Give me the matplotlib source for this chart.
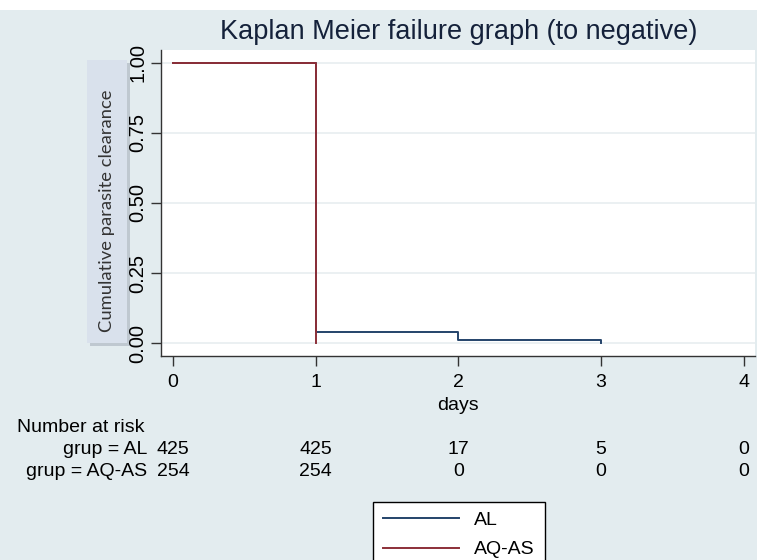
import matplotlib
matplotlib.use("Agg")
import matplotlib.pyplot as plt
from matplotlib.patches import Rectangle
from matplotlib.lines import Line2D
from matplotlib.transforms import blended_transform_factory

# datos
days = [0, 1, 2, 3, 4]
groups = ["AL", "AQ-AS"]
al_times = [0, 1, 2, 3]
al_surv = [1.0, 0.04, 0.012, 0.0]
aqas_times = [0, 1]
aqas_surv = [1.0, 0.0]
risk_al = [425, 425, 17, 5, 0]
risk_aqas = [254, 254, 0, 0, 0]
yticks = [0.0, 0.25, 0.5, 0.75, 1.0]

bg = "#e3ecef"
blue = "#24436a"
red = "#8c2f38"
sans = ["Liberation Sans", "DejaVu Sans"]
fs = 14

fig = plt.figure(figsize=(7.57, 5.60), dpi=100, facecolor=bg)
W, H = 757.0, 560.0

# franja blanca arriba
fig.patches.append(Rectangle((0, 1 - 10 / H), 1, 10 / H, transform=fig.transFigure,
                             facecolor="white", edgecolor="none", zorder=-2))

ax = fig.add_axes([161 / W, 1 - 356 / H, (755 - 161) / W, (356 - 50) / H])
ax.set_facecolor("white")

ax.step(al_times, al_surv, where="post", color=blue, lw=1.4, label=groups[0])
ax.step(aqas_times, aqas_surv, where="post", color=red, lw=1.4, label=groups[1])

ax.set_xlim(-0.085, 4.08)
ax.set_ylim(-0.046, 1.046)
ax.set_xticks(days)
ax.set_yticks(yticks)
ax.set_yticklabels(["%.2f" % v for v in yticks], rotation=90, va="center",
                   fontsize=fs + 0.5, family=sans)
ax.set_xticklabels([str(d) for d in days], fontsize=fs, family=sans)
ax.grid(axis="y", color="#e8eef0", lw=1.2)
ax.set_axisbelow(True)
for s in ["top", "right"]:
    ax.spines[s].set_visible(False)
for s in ["left", "bottom"]:
    ax.spines[s].set_color("#333333")
    ax.spines[s].set_linewidth(1.0)
ax.tick_params(direction="out", length=7, width=1, color="#333333", pad=3)
ax.tick_params(axis="x", pad=6)

ax.set_xlabel("days", fontsize=fs, family=sans, labelpad=4)

# titulo
fig.text(459 / W, 1 - 32 / H, "Kaplan Meier failure graph (to negative)",
         ha="center", va="center", fontsize=19.5, color="#14213a", family=sans)

# caja del eje y
fig.patches.append(Rectangle((90 / W, 1 - 346 / H), 40 / W, 283 / H, transform=fig.transFigure,
                             facecolor="#bfc8d0", edgecolor="none", zorder=-1.5))
fig.patches.append(Rectangle((87 / W, 1 - 343 / H), 40 / W, 283 / H, transform=fig.transFigure,
                             facecolor="#d9e1ec", edgecolor="none", zorder=-1))
fig.text(107 / W, 1 - 211 / H, "Cumulative parasite clearance", rotation=90,
         ha="center", va="center", fontsize=13.2, color="#333333", family=["Lato", "DejaVu Sans"],
         zorder=-0.5)

# tabla de numero en riesgo
tr = blended_transform_factory(ax.transData, fig.transFigure)
fig.text(17 / W, 1 - 427 / H, "Number at risk", ha="left", va="center",
         fontsize=fs, family=sans)
fig.text(147 / W, 1 - 450 / H, "grup = AL", ha="right", va="center",
         fontsize=fs, family=sans)
fig.text(147 / W, 1 - 471 / H, "grup = AQ-AS", ha="right", va="center",
         fontsize=fs, family=sans)
for d, a, b in zip(days, risk_al, risk_aqas):
    ax.text(d, 1 - 450 / H, str(a), transform=tr, ha="center", va="center",
            fontsize=fs, family=sans, clip_on=False)
    ax.text(d, 1 - 471 / H, str(b), transform=tr, ha="center", va="center",
            fontsize=fs, family=sans, clip_on=False)

# leyenda
handles = [Line2D([], [], color=blue, lw=1.4), Line2D([], [], color=red, lw=1.4)]
leg = fig.legend(handles, groups, loc="upper center", bbox_to_anchor=(459 / W, 1 - 492 / H),
                 frameon=True, fancybox=False, framealpha=1, edgecolor="black",
                 handlelength=3.9, handletextpad=0.8, borderpad=0.5, labelspacing=0.6,
                 prop={"family": sans, "size": fs})
leg.get_frame().set_linewidth(1.0)

fig.savefig("out.png", dpi=100, facecolor=bg)
